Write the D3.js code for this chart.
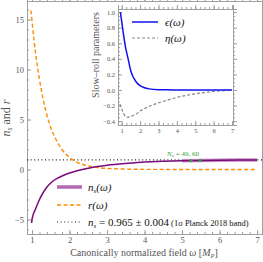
<!DOCTYPE html>
<html>
<head>
<meta charset="utf-8">
<script src="https://cdn.jsdelivr.net/npm/d3@7"></script>
<style>
  html, body { margin: 0; padding: 0; background: #fff; }
  svg { display: block; font-family: "Liberation Serif", "DejaVu Serif", serif; }
</style>
</head>
<body>
<svg id="chart" width="263" height="262"></svg>
<script>
// main panel values
const omega = [0.97, 0.99, 1.0, 1.1, 1.2, 1.3, 1.4, 1.5, 1.6, 1.8, 2.0, 2.2, 2.4, 2.6, 2.8, 3.0, 3.5, 4.0, 4.5, 5.0, 5.5, 6.0, 6.5, 7.0]
const rVals = [15.9, 15.3, 14.9, 11.5, 9.0, 7.0, 5.4, 4.2, 3.3, 2.0, 1.2, 0.72, 0.45, 0.28, 0.17, 0.11, 0.04, 0.015, 0.007, 0.003, 0.002, 0.001, 0.001, 0.0005]
const nsVals = [null, -5.35, -5.0, -3.9, -3.0, -2.3, -1.75, -1.35, -1.05, -0.65, -0.35, -0.12, 0.06, 0.21, 0.33, 0.42, 0.6, 0.75, 0.83, 0.88, 0.91, 0.93, 0.94, 0.95]
const planckNs = 0.965
const bandOmega = [4.9, 7.0]
const neOmega = [5.24, 5.48]
const neLabel = "49, 60"
const mainXTicks = [1, 2, 3, 4, 5, 6, 7]
const mainYTicks = [-5, 0, 5, 10, 15]

// inset values
const omegaIn = [0.91, 0.93, 1.0, 1.1, 1.2, 1.35, 1.5, 1.6, 1.7, 1.8, 2.0, 2.2, 2.5, 3.0, 3.5, 4.0, 4.5, 5.0, 5.5, 6.0, 6.5, 7.0]
const epsVals = [null, 1.0, 0.88, 0.71, 0.56, 0.4, 0.24, 0.18, 0.135, 0.1, 0.055, 0.032, 0.014, 0.004, 0.0015, 0.0006, 0.0003, 0.0002, 0.0001, 0.0001, 0, 0]
const etaVals = [-0.18, -0.2, -0.24, -0.3, -0.34, -0.35, -0.34, -0.33, -0.32, -0.31, -0.27, -0.245, -0.21, -0.165, -0.13, -0.095, -0.07, -0.05, -0.033, -0.02, -0.01, -0.003]
const insetXTicks = [1, 2, 3, 4, 5, 6, 7]
const insetYTicks = [-0.4, -0.2, 0, 0.2, 0.4, 0.6, 0.8, 1.0]

const frameColor = "#a0a0a0"
const labelColor = "#555"

const svg = d3.select("#chart")

const x = d3.scaleLinear().domain([0.867, 7.13]).range([27, 262])
const y = d3.scaleLinear().domain([-6.45, 16.85]).range([234, 1])

// frame with ticks on every side
function frame(g, xs, ys, xt, yt, xMinor, yMinor, fmtY, fs, showLabels) {
  const [x0, x1] = xs.range()
  const [y0, y1] = ys.range()
  const sides = [
    [d3.axisBottom(xs), y0, xt, xMinor, true],
    [d3.axisTop(xs), y1, xt, xMinor, false],
  ]
  sides.forEach(([ax, pos, tv, mv, lab]) => {
    const s = lab ? 1 : -1
    g.append("g").attr("transform", `translate(0,${pos})`)
      .call(ax.tickValues(mv).tickSize(-2 * s).tickFormat(""))
    g.append("g").attr("transform", `translate(0,${pos})`)
      .call(ax.tickValues(tv).tickSize(-4 * s).tickPadding(3).tickFormat(lab && showLabels ? d3.format("d") : ""))
  })
  const vsides = [
    [d3.axisLeft(ys), x0, true],
    [d3.axisRight(ys), x1, false],
  ]
  vsides.forEach(([ax, pos, lab]) => {
    const s = lab ? 1 : -1
    g.append("g").attr("transform", `translate(${pos},0)`)
      .call(ax.tickValues(yMinor).tickSize(-2 * s).tickFormat(""))
    g.append("g").attr("transform", `translate(${pos},0)`)
      .call(ax.tickValues(yt).tickSize(-4 * s).tickPadding(3).tickFormat(lab && showLabels ? fmtY : ""))
  })
  g.selectAll(".domain").attr("stroke", frameColor)
  g.selectAll(".tick line").attr("stroke", frameColor)
  g.selectAll(".tick text").attr("fill", labelColor).style("font-size", fs + "px")
    .style("font-family", "Liberation Serif, serif")
}

const gMain = svg.append("g")
frame(gMain, x, y, mainXTicks, mainYTicks,
  d3.range(1, 7.1, 0.2), d3.range(-6, 16.5, 1),
  d => d < 0 ? "\u2212" + Math.abs(d) : d, 8.5, true)

// Planck dotted line
gMain.append("line")
  .attr("x1", x(0.867)).attr("x2", x(7.13))
  .attr("y1", y(planckNs)).attr("y2", y(planckNs))
  .attr("stroke", "#222").attr("stroke-width", 1.2).attr("stroke-dasharray", "1,2.6")

const lineMain = (vals) => d3.line()
  .defined((d, i) => vals[i] !== null)
  .x((d, i) => x(omega[i]))
  .y((d, i) => y(vals[i]))
  .curve(d3.curveMonotoneX)

// r(ω)
gMain.append("path").datum(omega)
  .attr("d", lineMain(rVals))
  .attr("fill", "none").attr("stroke", "#ff8c00").attr("stroke-width", 1.4)
  .attr("stroke-dasharray", "4,2.5")

// ns highlight inside band
const bandIdx = omega.map((w, i) => (w >= bandOmega[0] && w <= bandOmega[1]) ? nsVals[i] : null)
gMain.append("path").datum(omega)
  .attr("d", lineMain(bandIdx))
  .attr("fill", "none").attr("stroke", "#c58cc5").attr("stroke-width", 3.5)

// ns(ω)
gMain.append("path").datum(omega)
  .attr("d", lineMain(nsVals))
  .attr("fill", "none").attr("stroke", "#7a0a7a").attr("stroke-width", 1.5)

// Ne markers
const nsAt = (w) => {
  const i = d3.bisectLeft(omega, w)
  const t = (w - omega[i - 1]) / (omega[i] - omega[i - 1])
  return nsVals[i - 1] + t * (nsVals[i] - nsVals[i - 1])
}
gMain.selectAll(".ne").data(neOmega).join("circle")
  .attr("cx", d => x(d)).attr("cy", d => y(nsAt(d)))
  .attr("r", 1.6).attr("fill", "#3aa03a")
gMain.append("text")
  .attr("x", x(neOmega[0]) - 24).attr("y", y(planckNs) - 4)
  .attr("fill", "#3aa03a").style("font-size", "7px").style("font-style", "italic")
  .call(t => {
    t.append("tspan").text("N")
    t.append("tspan").text("e").attr("dy", 1.5).style("font-size", "5px")
    t.append("tspan").text(" = " + neLabel).attr("dy", -1.5).style("font-style", "normal")
  })

// axis labels
svg.append("text")
  .attr("x", 144).attr("y", 256).attr("text-anchor", "middle")
  .attr("fill", labelColor).style("font-size", "10px")
  .call(t => {
    t.append("tspan").text("Canonically normalized field ")
    t.append("tspan").text("\u03c9").style("font-style", "italic")
    t.append("tspan").text(" [")
    t.append("tspan").text("M").style("font-style", "italic")
    t.append("tspan").text("P").attr("dy", 2).style("font-size", "6.5px").style("font-style", "italic")
    t.append("tspan").text("]").attr("dy", -2)
  })

svg.append("text")
  .attr("transform", "translate(10,118) rotate(-90)").attr("text-anchor", "middle")
  .attr("fill", labelColor).style("font-size", "12px")
  .call(t => {
    t.append("tspan").text("n").style("font-style", "italic")
    t.append("tspan").text("s").attr("dy", 2).style("font-size", "7.5px").style("font-style", "italic")
    t.append("tspan").text(" and ").attr("dy", -2)
    t.append("tspan").text("r").style("font-style", "italic")
  })

// main legend
const legend = [
  { y: 187, stroke: "#b46ab4", w: 3.5, dash: null },
  { y: 205, stroke: "#ff8c00", w: 1.4, dash: "4,2.5" },
  { y: 222, stroke: "#222", w: 1.2, dash: "1,2.6" },
]
legend.forEach(l => {
  svg.append("line").attr("x1", 57).attr("x2", 82).attr("y1", l.y).attr("y2", l.y)
    .attr("stroke", l.stroke).attr("stroke-width", l.w).attr("stroke-dasharray", l.dash)
})
const lt = (yy) => svg.append("text").attr("x", 88).attr("y", yy + 4).attr("fill", "#111").style("font-size", "11px")
lt(187).call(t => {
  t.append("tspan").text("n").style("font-style", "italic")
  t.append("tspan").text("s").attr("dy", 2).style("font-size", "7px").style("font-style", "italic")
  t.append("tspan").text("(\u03c9)").attr("dy", -2).style("font-style", "italic")
})
lt(205).call(t => t.append("tspan").text("r(\u03c9)").style("font-style", "italic"))
lt(222).call(t => {
  t.append("tspan").text("n").style("font-style", "italic")
  t.append("tspan").text("s").attr("dy", 2).style("font-size", "7px").style("font-style", "italic")
  t.append("tspan").text(" = 0.965 \u00b1 0.004").attr("dy", -2)
  t.append("tspan").text("  (1\u03c3 Planck 2018 band)").style("font-size", "8.5px")
})

// inset
const xi = d3.scaleLinear().domain([0.8, 7.05]).range([118, 233])
const yi = d3.scaleLinear().domain([-0.45, 1.04]).range([125, 9])
const gIn = svg.append("g")
gIn.append("rect").attr("x", 118).attr("y", 9).attr("width", 115).attr("height", 116).attr("fill", "#fff")
frame(gIn, xi, yi, insetXTicks, insetYTicks,
  d3.range(1, 7.01, 0.25), d3.range(-0.45, 1.04, 0.05),
  d => (d < 0 ? "\u2212" : "") + Math.abs(d).toFixed(1), 6.5, true)

const lineIn = (vals) => d3.line()
  .defined((d, i) => vals[i] !== null)
  .x((d, i) => xi(omegaIn[i]))
  .y((d, i) => yi(vals[i]))
  .curve(d3.curveMonotoneX)

gIn.append("path").datum(omegaIn).attr("d", lineIn(etaVals))
  .attr("fill", "none").attr("stroke", "#888").attr("stroke-width", 1.2).attr("stroke-dasharray", "3,2")
gIn.append("path").datum(omegaIn).attr("d", lineIn(epsVals))
  .attr("fill", "none").attr("stroke", "#1010f0").attr("stroke-width", 1.5)

svg.append("text")
  .attr("transform", "translate(99,55) rotate(-90)").attr("text-anchor", "middle")
  .attr("fill", labelColor).style("font-size", "10px").text("Slow\u2013roll parameters")

svg.append("line").attr("x1", 132).attr("x2", 158).attr("y1", 22).attr("y2", 22)
  .attr("stroke", "#1010f0").attr("stroke-width", 1.5)
svg.append("line").attr("x1", 132).attr("x2", 158).attr("y1", 38).attr("y2", 38)
  .attr("stroke", "#888").attr("stroke-width", 1.2).attr("stroke-dasharray", "3,2")
svg.append("text").attr("x", 165).attr("y", 26).style("font-size", "11px").style("font-style", "italic")
  .attr("fill", "#111").text("\u03f5(\u03c9)")
svg.append("text").attr("x", 165).attr("y", 42).style("font-size", "11px").style("font-style", "italic")
  .attr("fill", "#111").text("\u03b7(\u03c9)")
</script>
</body>
</html>
